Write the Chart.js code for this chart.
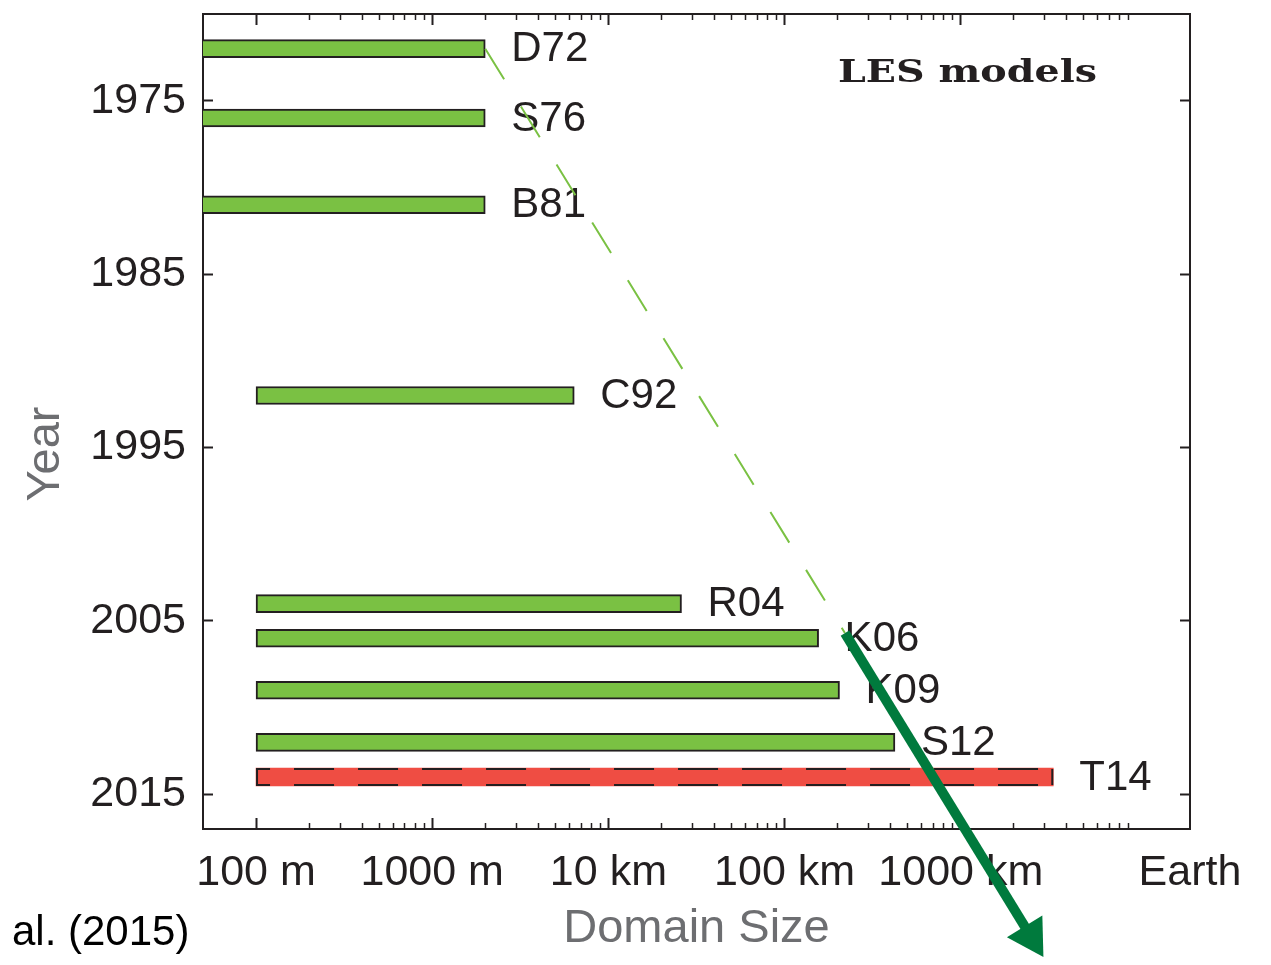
<!DOCTYPE html>
<html>
<head>
<meta charset="utf-8">
<script src="https://cdn.jsdelivr.net/npm/chart.js@4.4.1/dist/chart.umd.min.js"></script>
<style>
    html, body { margin: 0; padding: 0; background: #fff; }
</style>
</head>
<body>
<canvas id="chart" width="1271" height="965"></canvas>
<script>
(function () {
    "use strict";

    // Values (domain sizes in metres)
    const models = ["D72", "S76", "B81", "C92", "R04", "K06", "K09", "S12", "T14"];
    const years = [1972, 1976, 1981, 1992, 2004, 2006, 2009, 2012, 2014];
    const domainStart = [10, 10, 10, 100, 100, 100, 100, 100, 100];
    const domainEnd = [2000, 2000, 2000, 6400, 26000, 156000, 205000, 423000, 3350000];

    // dashed trend and the extrapolation arrow
    const trendX = [2000, 220000];
    const trendY = [1972, 2005.7];
    const arrowX = [220000, 2500000];
    const arrowY = [2005.7, 2023.2];

    // axis ticks
    const sizeTicks = [100, 1e3, 1e4, 1e5, 1e6, 2e7];
    const sizeLabels = ["100 m", "1000 m", "10 km", "100 km", "1000 km", "Earth"];
    const yearTicks = [1975, 1985, 1995, 2005, 2015];
    const minorTicks = [];
    [100, 1e3, 1e4, 1e5, 1e6].forEach((d) => {
        for (let k = 2; k <= 9; k++) minorTicks.push(d * k);
    });

    const ink = "#231f20";
    const gray = "#6d6e71";
    const green = "#7ac143";
    const red = "#ef4d43";
    const darkGreen = "#007a3d";
    const sans = "'Liberation Sans', Arial, sans-serif";

    Chart.defaults.font.family = sans;
    Chart.defaults.color = ink;

    function fixSize(w, h) {
        return function (scale) {
            if (w !== null) scale.width = w;
            if (h !== null) scale.height = h;
            scale.paddingLeft = 0;
            scale.paddingRight = 0;
            scale.paddingTop = 0;
            scale.paddingBottom = 0;
        };
    }

    function useTicks(values) {
        return function (scale) {
            scale.ticks = values.map((v) => ({ value: v }));
        };
    }

    function sizeAxis(position, ticks, len, opts) {
        return Object.assign({
            type: "logarithmic",
            axis: "x",
            position: position,
            min: 50,
            max: 2e7,
            offset: false,
            beginAtZero: false,
            afterBuildTicks: useTicks(ticks),
            afterFit: fixSize(null, 0),
            grid: {
                offset: false,
                drawOnChartArea: false,
                tickLength: -len,
                tickWidth: len > 8 ? 2 : 1.5,
                tickColor: (c) => (c.tick && c.tick.value === 2e7 ? "rgba(0,0,0,0)" : ink),
            },
            border: { display: false },
            ticks: { display: false, autoSkip: false, maxRotation: 0, minRotation: 0 },
        }, opts || {});
    }

    function yearAxis(position, opts) {
        return Object.assign({
            type: "linear",
            axis: "y",
            position: position,
            min: 1970,
            max: 2017,
            reverse: true,
            offset: false,
            beginAtZero: false,
            afterBuildTicks: useTicks(yearTicks),
            afterFit: fixSize(position === "left" ? 203 : 81, null),
            grid: {
                offset: false,
                drawOnChartArea: false,
                tickLength: -10,
                tickWidth: 2,
                tickColor: ink,
            },
            border: { display: true, color: ink, width: 2 },
            ticks: { display: false, autoSkip: false },
        }, opts || {});
    }

    const whole = { left: 0, top: 0, right: 1271, bottom: 965 };

    const annotate = {
        id: "annotate",
        afterDatasetDraw(chart, args) {
            const ctx = chart.ctx;
            if (args.index === 2) {
                // arrow head lies outside the plot, draw the point element unclipped
                const head = args.meta.data[args.meta.data.length - 1];
                head.draw(ctx, whole);
                return;
            }
            if (args.index !== 0) return;
            const bars = args.meta.data;
            ctx.save();
            bars.forEach((bar, i) => {
                if (models[i] !== "T14") return;
                const h = bar.height / 2 - 1;
                ctx.strokeStyle = ink;
                ctx.lineWidth = 2;
                ctx.setLineDash([40, 24]);
                ctx.lineDashOffset = 26;
                [bar.y - h, bar.y + h].forEach((yy) => {
                    ctx.beginPath();
                    ctx.moveTo(bar.base, yy);
                    ctx.lineTo(bar.x, yy);
                    ctx.stroke();
                });
                ctx.setLineDash([]);
                ctx.beginPath();
                ctx.moveTo(bar.base + 1, bar.y - h);
                ctx.lineTo(bar.base + 1, bar.y + h);
                ctx.moveTo(bar.x - 1, bar.y - h);
                ctx.lineTo(bar.x - 1, bar.y + h);
                ctx.stroke();
            });
            ctx.font = "42px " + sans;
            ctx.fillStyle = ink;
            ctx.textAlign = "left";
            ctx.textBaseline = "middle";
            bars.forEach((bar, i) => ctx.fillText(models[i], bar.x + 26, bar.y + 1));
            ctx.restore();
        },
        afterDraw(chart) {
            const ctx = chart.ctx;
            ctx.save();
            // y title
            ctx.translate(46, 454);
            ctx.rotate(-Math.PI / 2);
            ctx.font = "47px " + sans;
            ctx.fillStyle = gray;
            ctx.textAlign = "center";
            ctx.textBaseline = "middle";
            ctx.fillText("Year", 0, 0);
            ctx.restore();

            ctx.save();
            ctx.font = "bold 31px 'DejaVu Serif', serif";
            ctx.fillStyle = ink;
            ctx.textAlign = "left";
            ctx.textBaseline = "alphabetic";
            const w = ctx.measureText("LES models").width;
            ctx.translate(838, 82);
            ctx.scale(259 / w, 1);
            ctx.fillText("LES models", 0, 0);
            ctx.restore();

            ctx.save();
            ctx.font = "42px " + sans;
            ctx.fillStyle = "#000";
            ctx.textAlign = "left";
            ctx.textBaseline = "alphabetic";
            ctx.fillText("al. (2015)", 12, 945);
            ctx.restore();
        },
    };

    new Chart(document.getElementById("chart"), {
        type: "bar",
        data: {
            datasets: [
                {
                    label: "LES domains",
                    indexAxis: "y",
                    xAxisID: "x",
                    yAxisID: "y",
                    order: 3,
                    clip: 0,
                    data: models.map((m, i) => ({ y: years[i], x: [domainStart[i], domainEnd[i]] })),
                    barThickness: 18,
                    borderSkipped: false,
                    borderColor: ink,
                    borderWidth: (c) => (models[c.dataIndex] === "T14" ? 0 : 2),
                    backgroundColor: (c) => (models[c.dataIndex] === "T14" ? red : green),
                },
                {
                    type: "line",
                    label: "trend",
                    xAxisID: "x",
                    yAxisID: "y",
                    order: 2,
                    data: trendX.map((x, i) => ({ x: x, y: trendY[i] })),
                    borderColor: green,
                    borderWidth: 2,
                    borderDash: [36, 32],
                    pointRadius: 0,
                    fill: false,
                },
                {
                    type: "line",
                    label: "arrow",
                    xAxisID: "x",
                    yAxisID: "y",
                    order: 1,
                    clip: false,
                    data: arrowX.map((x, i) => ({ x: x, y: arrowY[i] })),
                    borderColor: darkGreen,
                    borderWidth: 10,
                    borderCapStyle: "butt",
                    pointRadius: (c) => (c.dataIndex === arrowX.length - 1 ? 24 : 0),
                    pointStyle: "triangle",
                    pointBackgroundColor: darkGreen,
                    pointBorderColor: darkGreen,
                    pointBorderWidth: 0,
                    pointRotation: (c) => {
                        const xs = c.chart.scales.x;
                        const ys = c.chart.scales.y;
                        const dx = xs.getPixelForValue(arrowX[1]) - xs.getPixelForValue(arrowX[0]);
                        const dy = ys.getPixelForValue(arrowY[1]) - ys.getPixelForValue(arrowY[0]);
                        return (Math.atan2(dx, -dy) * 180) / Math.PI;
                    },
                    fill: false,
                },
            ],
        },
        options: {
            responsive: false,
            maintainAspectRatio: false,
            devicePixelRatio: 1,
            animation: false,
            events: [],
            layout: { autoPadding: false, padding: { top: 14, left: 0, right: 0, bottom: 0 } },
            plugins: {
                legend: { display: false },
                tooltip: { enabled: false },
            },
            scales: {
                x: sizeAxis("bottom", sizeTicks, 11, {
                    weight: 1,
                    afterFit: fixSize(null, 136),
                    border: { display: true, color: ink, width: 2 },
                    ticks: {
                        display: true,
                        autoSkip: false,
                        maxRotation: 0,
                        minRotation: 0,
                        padding: 29,
                        color: ink,
                        font: { size: 43 },
                        callback: (v) => {
                            const i = sizeTicks.indexOf(v);
                            return i >= 0 ? sizeLabels[i] : "";
                        },
                    },
                    title: {
                        display: true,
                        text: "Domain Size",
                        color: gray,
                        font: { size: 47 },
                        padding: { top: 0, bottom: 8 },
                    },
                }),
                xm: sizeAxis("bottom", minorTicks, 6, { weight: 0 }),
                xt: sizeAxis("top", sizeTicks, 11, {
                    weight: 1,
                    border: { display: true, color: ink, width: 2 },
                }),
                xtm: sizeAxis("top", minorTicks, 6, { weight: 0 }),
                y: yearAxis("left", {
                    ticks: {
                        display: true,
                        autoSkip: false,
                        padding: 27,
                        color: ink,
                        font: { size: 43 },
                        callback: (v) => String(v),
                    },
                }),
                y2: yearAxis("right"),
            },
        },
        plugins: [annotate],
    });
})();
</script>
</body>
</html>
